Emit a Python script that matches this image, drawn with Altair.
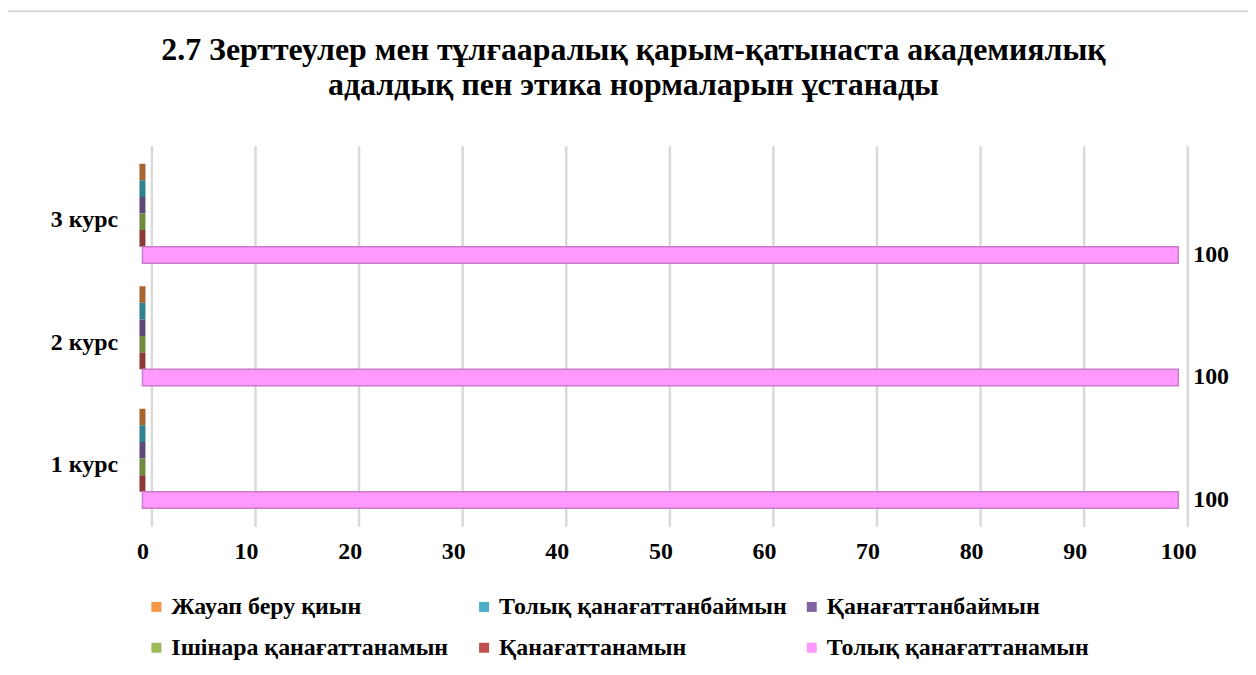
import altair as alt
import pandas as pd

categories = ["3 курс", "2 курс", "1 курс"]
series = ["Жауап беру қиын", "Толық қанағаттанбаймын", "Қанағаттанбаймын",
          "Ішінара қанағаттанамын", "Қанағаттанамын", "Толық қанағаттанамын"]
fill_colors = ["#F79646", "#4BACC6", "#8064A2", "#9BBB59", "#C0504D", "#FF99FF"]
edge_colors = ["#A8652F", "#31808F", "#5D4A78", "#6F8A40", "#8C3A38", "#C77DC7"]
values = {
    "3 курс": [0, 0, 0, 0, 0, 100],
    "2 курс": [0, 0, 0, 0, 0, 100],
    "1 курс": [0, 0, 0, 0, 0, 100],
}

rows = []
for c in categories:
    for s, v in zip(series, values[c]):
        rows.append({"category": c, "series": s, "value": v})
df = pd.DataFrame(rows)

FONT = "Liberation Serif"
FS = 24

y_enc = alt.Y("category:N", sort=categories, title=None,
              scale=alt.Scale(paddingInner=0.187, paddingOuter=0.146),
              axis=alt.Axis(labelFont=FONT, labelFontSize=FS, labelFontWeight="bold",
                            labelColor="#000000", labelPadding=25, labelOffset=7,
                            domain=False, ticks=False, grid=False))
yoff = alt.YOffset("series:N", sort=series, scale=alt.Scale(paddingInner=0.0))
x_scale = alt.Scale(domain=[0, 100])

base = alt.Chart(df)

bars = base.mark_bar().encode(
    x=alt.X("value:Q", scale=x_scale, title=None,
            axis=alt.Axis(values=list(range(0, 101, 10)), labelFont=FONT,
                          labelFontSize=FS, labelFontWeight="bold", labelColor="#000000",
                          labelPadding=13, tickOffset=9, labelOffset=-9, labelFlush=False,
                          grid=True, gridColor="#D9D9D9", gridWidth=2.5,
                          domain=False, ticks=False)),
    y=y_enc,
    yOffset=yoff,
    color=alt.Color("series:N", sort=series,
                    scale=alt.Scale(domain=series, range=fill_colors),
                    legend=alt.Legend(title=None, orient="none", legendX=2, legendY=451,
                                      columns=3, direction="horizontal", gridAlign="all",
                                      symbolType="square", symbolSize=100,
                                      symbolStrokeWidth=0,
                                      labelFont=FONT, labelFontSize=FS,
                                      labelFontWeight="bold", labelColor="#000000",
                                      labelLimit=400, columnPadding=12, rowPadding=17,
                                      labelOffset=3)),
    stroke=alt.Stroke("series:N", sort=series,
                      scale=alt.Scale(domain=series, range=edge_colors), legend=None),
    strokeWidth=alt.condition("datum.value > 0", alt.value(1.5), alt.value(6)),
)

labels = base.transform_filter("datum.value > 0").mark_text(
    align="left", baseline="middle", dx=15, font=FONT, fontSize=FS,
    fontWeight="bold", color="#000000"
).encode(
    x=alt.X("value:Q", scale=x_scale),
    y=alt.Y("category:N", sort=categories),
    yOffset=yoff,
    text=alt.Text("value:Q"),
)

frame = alt.Chart(pd.DataFrame({"a": [0]})).mark_rect(
    fill=None, stroke="#D9D9D9", strokeWidth=2
).encode(x=alt.value(-136), x2=alt.value(1130), y=alt.value(-135), y2=alt.value(545))

chart = alt.layer(frame, bars, labels).properties(
    width=1040, height=382,
    autosize=alt.AutoSizeParams(type="none"),
    padding={"left": 135, "top": 137, "right": 70, "bottom": 143},
    title=alt.Title(
        ["2.7 Зерттеулер мен тұлғааралық қарым-қатынаста академиялық",
         "адалдық пен этика нормаларын ұстанады"],
        font=FONT, fontSize=32, fontWeight="bold", color="#000000",
        anchor="middle", dx=-27, offset=-92, lineHeight=35),
).configure_view(stroke=None)

chart.save("out.html", embed_options={"renderer": "svg", "actions": False})
